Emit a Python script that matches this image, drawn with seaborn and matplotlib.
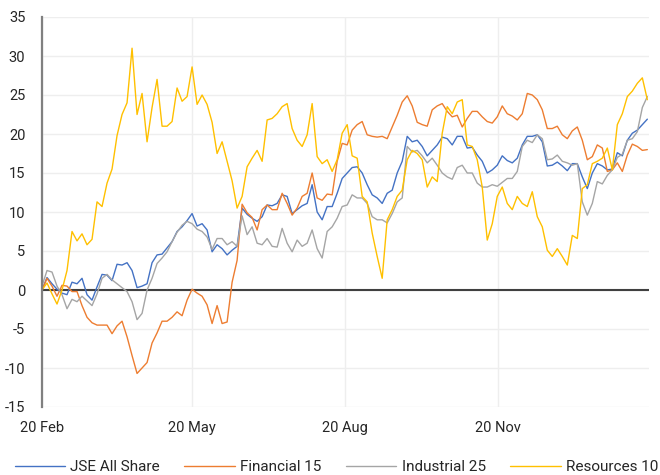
import matplotlib
matplotlib.use("Agg")
import matplotlib.pyplot as plt
import pandas as pd
import seaborn as sns

# ======================================
# DATA (cumulative % change)
# ======================================
START_DATE = "2020-02-20"
END_DATE = "2021-02-18"

jse_all_share = [
    0, 1.6, 0.8, 0.1, -0.4, -0.6, 1.0, 0.8, 1.5, -0.6, -1.3, 0.4, 2.0, 1.9, 1.2, 3.3,
    3.2, 3.5, 2.5, 0.3, 0.5, 0.8, 3.5, 4.5, 4.6, 5.4, 6.2, 7.5, 8.1, 8.9, 9.8, 8.2,
    8.5, 7.7, 4.9, 5.8, 5.3, 4.5, 5.1, 5.6, 10.5, 9.7, 9.2, 8.8, 9.4, 10.9, 10.8, 11.1,
    12.2, 12.0, 9.8, 10.3, 10.8, 11.1, 13.5, 10.0, 9.0, 10.7, 10.7, 12.4, 14.3, 15.0,
    15.7, 15.8, 15.0, 13.5, 12.2, 11.8, 11.1, 12.4, 12.8, 15.0, 16.5, 19.7, 19.0, 19.2,
    18.4, 17.2, 17.9, 18.6, 19.6, 19.4, 18.6, 19.7, 19.7, 18.2, 18.3, 17.3, 16.5, 15.0,
    15.4, 16.0, 17.2, 16.6, 16.3, 16.9, 18.6, 19.7, 19.7, 19.9, 19.0, 15.9, 16.0, 16.4,
    15.9, 15.3, 16.2, 16.2, 14.5, 13.0, 15.0, 16.2, 15.9, 15.4, 15.5, 17.6, 17.2, 19.2,
    20.1, 20.5, 21.2, 21.9,
]

financial_15 = [
    0, 1.5, 0.5, -0.8, 0.6, 0.5, -0.2, -0.2, -2.0, -3.5, -4.2, -4.5, -4.5, -4.5, -5.6, -4.6,
    -4.0, -6.0, -8.4, -10.7, -10.0, -9.3, -6.8, -5.5, -4.0, -4.0, -3.5, -2.8, -3.3, -1.3, 0.1, -0.4,
    -0.8, -1.9, -4.3, -2.0, -4.3, -4.1, 1.0, 3.8, 11.0, 9.9, 9.3, 7.7, 10.3, 10.9, 10.3, 10.3,
    12.4, 11.1, 9.6, 10.5, 12.0, 12.4, 15.0, 11.8, 11.5, 12.3, 12.2, 16.5, 18.8, 18.6,
    20.5, 21.2, 21.6, 19.9, 19.7, 19.6, 19.7, 19.4, 20.9, 22.4, 24.1, 24.9, 23.6, 21.5,
    21.2, 21.0, 23.1, 23.6, 23.9, 22.9, 22.2, 22.4, 20.9, 22.0, 22.9, 22.9, 22.2, 21.6,
    21.4, 22.2, 23.6, 22.6, 22.3, 21.8, 22.6, 25.2, 25.0, 24.4, 23.1, 20.7, 20.7, 21.0,
    19.9, 19.4, 20.4, 20.9, 19.2, 16.7, 17.1, 18.6, 18.2, 15.2, 15.4, 16.3, 15.2, 17.3,
    18.7, 18.4, 17.9, 18.0,
]

industrial_25 = [
    0.5, 2.5, 2.3, 0.5, -0.6, -2.4, -1.2, -1.5, -0.8, -1.4, -2.0, -0.5, 1.5, 2.0, 1.3, 0.8,
    0.3, -0.2, -1.5, -3.8, -3.0, 0.0, 1.5, 3.4, 4.1, 4.9, 6.2, 7.4, 8.3, 8.8, 8.5, 7.8,
    7.5, 6.8, 5.2, 6.6, 6.6, 5.8, 6.2, 5.6, 9.5, 7.1, 8.1, 6.0, 5.8, 6.6, 5.6, 5.5,
    7.9, 6.0, 4.9, 6.4, 5.6, 6.0, 7.7, 5.3, 4.1, 7.5, 8.1, 9.2, 10.7, 10.9,
    12.2, 11.8, 11.8, 11.1, 9.4, 9.0, 9.0, 8.6, 9.8, 11.3, 11.8, 18.4, 17.7, 17.9,
    17.2, 16.3, 16.9, 16.0, 15.0, 14.5, 14.2, 15.7, 16.0, 15.0, 15.0, 13.7, 13.2, 13.2,
    13.5, 13.3, 13.8, 14.3, 14.3, 15.2, 18.4, 19.2, 18.9, 19.9, 19.4, 16.7, 16.8, 17.3,
    16.5, 16.3, 16.0, 16.2, 11.3, 9.6, 11.1, 13.9, 13.6, 14.7, 15.4, 17.0, 17.4, 19.2,
    19.4, 20.3, 23.4, 24.8,
]

resources_10 = [
    0, 0.9, -0.5, -1.8, 0, 2.5, 7.5, 6.3, 7.2, 5.8, 6.5, 11.3, 10.7, 13.7, 15.5, 19.8,
    22.5, 24.0, 31.0, 22.5, 25.2, 19.0, 23.4, 27.0, 21.0, 21.0, 21.6, 25.9, 24.2, 24.8, 28.6, 23.8,
    25.0, 23.8, 21.5, 17.5, 19.0, 16.5, 14.0, 10.5, 12.0, 15.8, 16.9, 17.9, 16.5, 21.8, 22.0, 22.6,
    23.5, 23.9, 20.7, 19.2, 18.4, 19.9, 23.9, 17.1, 16.2, 16.7, 15.2, 16.7, 20.1, 21.2,
    17.2, 16.9, 12.0, 11.3, 7.3, 4.3, 1.5, 9.0, 10.3, 12.0, 12.8, 16.7, 17.9, 17.5,
    16.7, 13.2, 14.5, 13.9, 20.1, 23.5, 22.6, 24.1, 24.4, 18.6, 18.4, 16.7, 13.2, 6.4,
    8.5, 12.0, 13.2, 11.1, 10.3, 12.0, 11.1, 10.7, 12.6, 9.4, 8.1, 5.1, 4.3, 5.3,
    4.3, 3.2, 7.0, 6.6, 13.0, 13.5, 16.2, 16.5, 16.9, 18.2, 15.4, 21.2, 22.6, 24.8,
    25.5, 26.5, 27.2, 24.4,
]

series_names = ["JSE All Share", "Financial 15", "Industrial 25", "Resources 10"]
series_colors = ["#4472C4", "#ED7D31", "#A5A5A5", "#FFC000"]

tick_dates = ["2020-02-20", "2020-05-20", "2020-08-20", "2020-11-20"]
tick_labels = ["20 Feb", "20 May", "20 Aug", "20 Nov"]
y_ticks = [-15, -10, -5, 0, 5, 10, 15, 20, 25, 30, 35]

# ======================================
# BUILD LONG TABLE
# ======================================
dates = pd.date_range(START_DATE, END_DATE, periods=len(jse_all_share))
wide = pd.DataFrame({
    "date": dates,
    "JSE All Share": jse_all_share,
    "Financial 15": financial_15,
    "Industrial 25": industrial_25,
    "Resources 10": resources_10,
})
long = wide.melt(id_vars="date", var_name="series", value_name="change")

# ======================================
# PLOT
# ======================================
sns.set_theme(style="white")
plt.rcParams["font.family"] = ["Roboto", "DejaVu Sans"]

fig = plt.figure(figsize=(6.6, 4.75), dpi=100)
ax = fig.add_axes([42 / 660, 1 - 407 / 475, 607 / 660, 390 / 475])

sns.lineplot(
    data=long, x="date", y="change", hue="series",
    hue_order=series_names, palette=series_colors,
    linewidth=1.0, ax=ax,
)

ax.set_xlim(pd.Timestamp("2020-02-20"), pd.Timestamp("2021-02-19"))
ax.set_ylim(-15, 35)
ax.set_yticks(y_ticks)
ax.set_yticklabels([str(v) for v in y_ticks])
ax.set_xticks(pd.to_datetime(tick_dates))
ax.set_xticklabels(tick_labels)
ax.set_xlabel("")
ax.set_ylabel("")

ax.grid(True, color="#EEEEEE", linewidth=1.0)
ax.set_axisbelow(True)
ax.axhline(0, color="#404040", linewidth=1.5, zorder=1.5)

for side in ["top", "right", "bottom"]:
    ax.spines[side].set_visible(False)
ax.spines["left"].set_color("#808080")
ax.spines["left"].set_linewidth(1.6)

ax.tick_params(axis="y", length=0, pad=12, labelsize=10.5, labelcolor="#262626")
ax.tick_params(axis="x", length=0, pad=10, labelsize=10.5, labelcolor="#262626")

handles, labels = ax.get_legend_handles_labels()
ax.get_legend().remove()
fig.legend(
    handles, labels, loc="center", bbox_to_anchor=(0.51, 0.017), ncol=4,
    frameon=False, fontsize=11, handlelength=3.3, handletextpad=0.35,
    columnspacing=1.6, labelcolor="#262626",
)

fig.savefig("out.png", dpi=100)
